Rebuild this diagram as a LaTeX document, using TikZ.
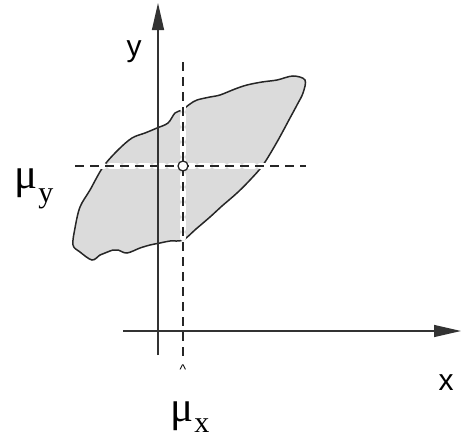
\documentclass[tikz,border=0pt]{standalone}
\usepackage{fontspec}
\setmainfont{Liberation Serif}
\setsansfont{Liberation Sans}
\usetikzlibrary{arrows.meta}
\begin{document}
\begin{tikzpicture}[x=1pt,y=-1pt,
  axis/.style={line width=1.3pt,draw=black!80,-{Triangle[length=27pt,width=12pt]}},
  blob/.style={line width=1.5pt,draw=black!85,fill=black!14},
  dashline/.style={line width=1.3pt,draw=black!85,dash pattern=on 9pt off 6pt},
  halo/.style={line width=6pt,draw=white,dash pattern=on 9pt off 6pt,line cap=round},
  axlabel/.style={font=\sffamily\fontsize{30}{30}\selectfont,inner sep=0pt},
  mulabel/.style={inner sep=0pt,anchor=base west}]
\useasboundingbox (0,0) rectangle (462,439);
% blob
\draw[blob] plot[smooth cycle,tension=0.55] coordinates {
 (92,260) (80,252) (73,245) (75,228) (80,207) (90,190) (103,167) (118,150) (132,138)
 (145,133) (157,128) (168,123) (175,113) (182,110) (190,104) (197,100) (210,97)
 (220,95) (235,89) (247,85) (262,82) (277,80) (293,76) (305,80) (303,93)
 (297,105) (290,118) (277,142) (263,165) (250,180) (237,193) (222,206) (210,217)
 (196,229) (183,240) (170,241) (160,243) (150,245) (140,248) (127,253) (118,250)
 (113,250) (105,253) (100,255)};
% coordinates
\coordinate (ybot) at (158,355);
\coordinate (ytop) at (158,3);
\coordinate (xleft) at (123,331);
\coordinate (xright) at (461,331);
\coordinate (vtop) at (183,62);
\coordinate (vbot) at (183,356);
\coordinate (hleft) at (75,166);
\coordinate (hright) at (306,166);
% dashed lines with white halo inside blob
\draw[halo] (183,100) -- (183,238);
\draw[halo] (80,166) -- (265,166);
\draw[dashline] (vtop) -- (vbot);
\draw[dashline] (hleft) -- (hright);
% axes
\draw[axis] (ybot) -- (ytop);
\draw[axis] (xleft) -- (xright);
% mean point
\node[circle,draw=black!85,fill=white,line width=1.3pt,minimum size=10pt,inner sep=0pt] (mean) at (183,166) {};
% labels
\node[axlabel] (ylab) at (134,52) {y};
\node[axlabel] (xlab) at (446,383) {x};
\node[inner sep=0pt,font=\sffamily\fontsize{14}{14}\selectfont] (caret) at (183,370) {\^{}};
\node[mulabel] (muy) at (14,188) {\fontsize{43}{43}\selectfont μ\kern1pt\raisebox{-14pt}{\fontsize{30}{30}\selectfont y}};
\node[mulabel] (mux) at (170,421) {\fontsize{43}{43}\selectfont μ\kern1pt\raisebox{-11pt}{\fontsize{30}{30}\selectfont x}};
\end{tikzpicture}
\end{document}
